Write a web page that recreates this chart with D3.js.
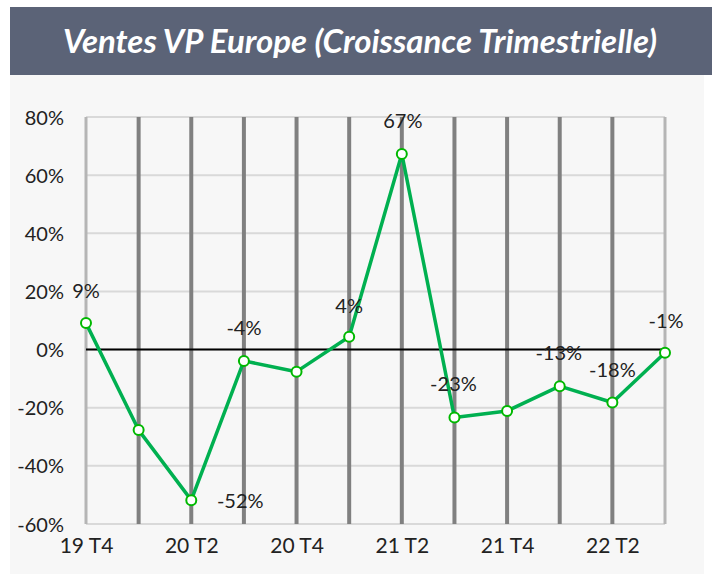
<!DOCTYPE html>
<html>
<head>
<meta charset="utf-8">
<script src="https://cdn.jsdelivr.net/npm/d3@7"></script>
<style>
  body { margin: 0; background: #fff; }
  text { font-family: Lato, "Noto Sans", sans-serif; }
</style>
</head>
<body>
<div id="chart"></div>
<script>
// data
const quarters = ["19 T4", "20 T1", "20 T2", "20 T3", "20 T4", "21 T1", "21 T2", "21 T3", "21 T4", "22 T1", "22 T2", "22 T3"];
const growth = [9.1, -27.7, -51.8, -3.9, -7.6, 4.4, 67.3, -23.4, -21.1, -12.6, -18.2, -1.1];
const shownLabels = ["19 T4", "20 T2", "20 T4", "21 T2", "21 T4", "22 T2"];
const yTicks = [80, 60, 40, 20, 0, -20, -40, -60];
// data-label placement relative to its point (label offsets, not data)
const labelOffsets = [[0, -32], null, [49, 1], [0, -33], null, [0, -31], [1, -33], [-1, -34], null, [-1, -33], [0, -32], [1, -32]];

const W = 712, H = 575;
const margin = {top: 117, right: 47, bottom: 51, left: 86};
const width = W - margin.left - margin.right;
const height = H - margin.top - margin.bottom;

const svg = d3.select("#chart").append("svg")
    .attr("width", W)
    .attr("height", H);

// panel background + title bar
svg.append("rect").attr("x", 10).attr("y", 74).attr("width", 694).attr("height", 500).attr("fill", "#f7f7f7");
svg.append("rect").attr("x", 10).attr("y", 7).attr("width", 702).attr("height", 68).attr("fill", "#5b6377");
svg.append("text")
    .attr("x", 360).attr("y", 53)
    .attr("text-anchor", "middle")
    .attr("fill", "#fff")
    .style("font-size", "33px")
    .style("font-weight", "bold")
    .style("font-style", "italic")
    .text("Ventes VP Europe (Croissance Trimestrielle)");

const g = svg.append("g").attr("transform", "translate(" + margin.left + "," + margin.top + ")");

const x = d3.scalePoint().domain(quarters).range([0, width]);
const y = d3.scaleLinear().domain([-60, 80]).range([height, 0]);

// horizontal gridlines
g.selectAll(".hgrid").data(yTicks).join("line")
    .attr("class", "hgrid")
    .attr("x1", 0).attr("x2", width)
    .attr("y1", d => y(d)).attr("y2", d => y(d))
    .attr("stroke", "#d9d9d9").attr("stroke-width", 2);

// vertical gridlines
g.selectAll(".vgrid").data(quarters).join("line")
    .attr("class", "vgrid")
    .attr("x1", d => x(d)).attr("x2", d => x(d))
    .attr("y1", 0).attr("y2", height)
    .attr("stroke", (d, i) => (i === 0 || i === quarters.length - 1) ? "#b5b5b5" : "#808080")
    .attr("stroke-width", (d, i) => (i === 0 || i === quarters.length - 1) ? 3 : 4);

// zero line
g.append("line")
    .attr("x1", 0).attr("x2", width)
    .attr("y1", y(0)).attr("y2", y(0))
    .attr("stroke", "#000").attr("stroke-width", 2);

// axes (text only)
const yAxis = g.append("g").call(d3.axisLeft(y).tickValues(yTicks).tickSize(0).tickPadding(22).tickFormat(d => d + "%"));
yAxis.select(".domain").remove();
yAxis.selectAll("text").style("font-size", "20px").attr("fill", "#222").attr("dy", "0.35em");

const xAxis = g.append("g").attr("transform", "translate(0," + height + ")")
    .call(d3.axisBottom(x).tickValues(shownLabels).tickSize(0).tickPadding(14));
xAxis.select(".domain").remove();
xAxis.selectAll("text").style("font-size", "21px").attr("fill", "#222");

// series line
const pts = quarters.map((q, i) => ({q: q, v: growth[i], i: i}));
g.append("path")
    .datum(pts)
    .attr("fill", "none")
    .attr("stroke", "#00b050")
    .attr("stroke-width", 3.5)
    .attr("stroke-linejoin", "round")
    .attr("d", d3.line().x(d => x(d.q)).y(d => y(d.v)));

g.selectAll(".marker").data(pts).join("circle")
    .attr("class", "marker")
    .attr("cx", d => x(d.q)).attr("cy", d => y(d.v))
    .attr("r", 5)
    .attr("fill", "#fff")
    .attr("stroke", "#00b800")
    .attr("stroke-width", 2);

// data labels
g.selectAll(".dlabel").data(pts.filter(d => labelOffsets[d.i])).join("text")
    .attr("class", "dlabel")
    .attr("x", d => x(d.q) + labelOffsets[d.i][0])
    .attr("y", d => y(d.v) + labelOffsets[d.i][1])
    .attr("dy", "0.35em")
    .attr("text-anchor", "middle")
    .attr("fill", "#222")
    .style("font-size", "20px")
    .text(d => Math.round(d.v) + "%");
</script>
</body>
</html>
